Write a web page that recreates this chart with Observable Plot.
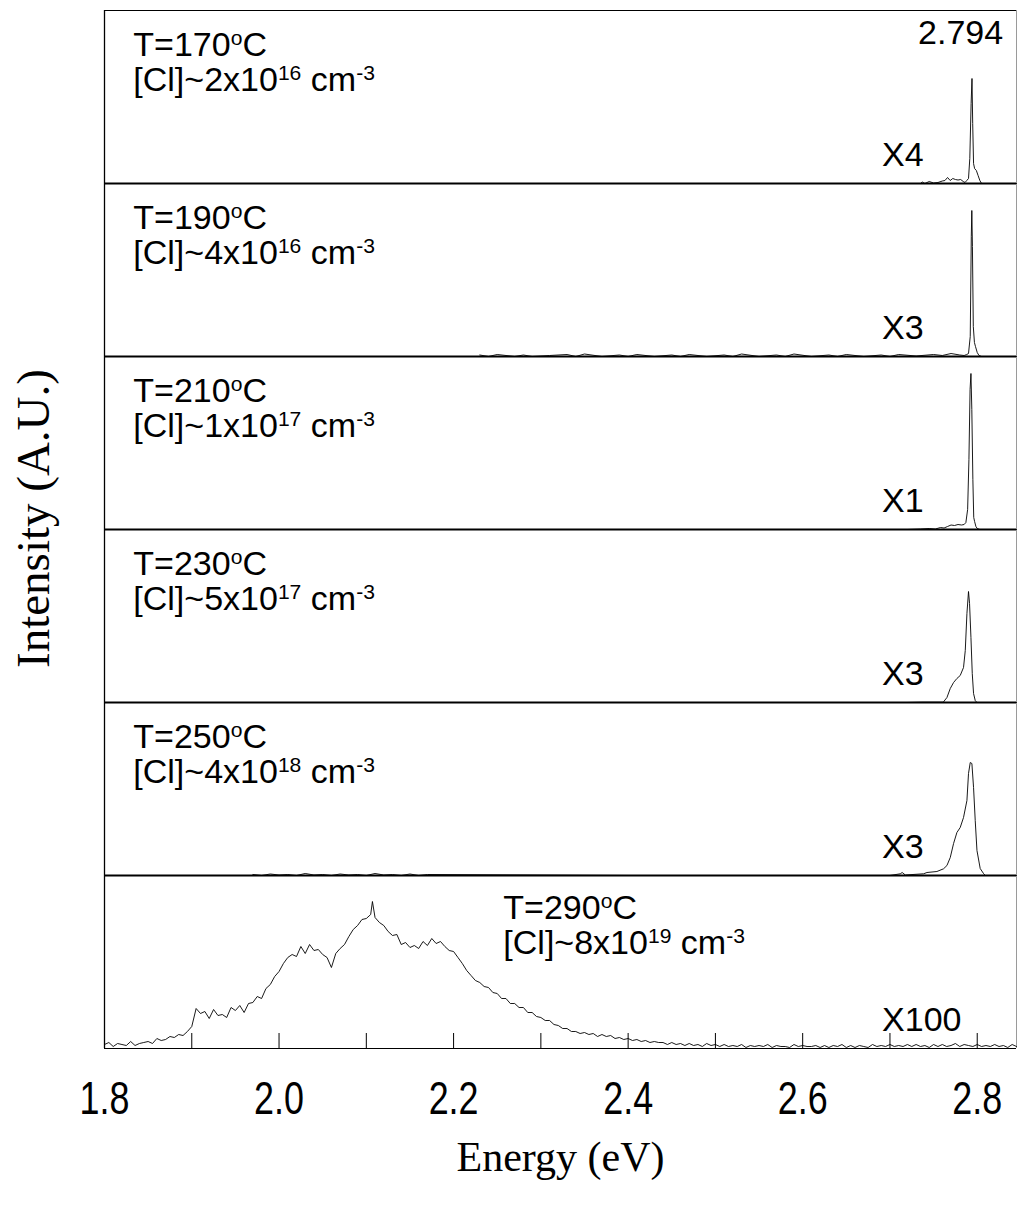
<!DOCTYPE html>
<html>
<head>
<meta charset="utf-8">
<script src="https://cdn.jsdelivr.net/npm/d3@7"></script>
<script src="https://cdn.jsdelivr.net/npm/@observablehq/plot@0.6"></script>
<style>
  body { margin: 0; background: #fff; }
  #chart svg { display: block; }
</style>
</head>
<body>
<div id="chart"></div>
<script>
// ---------------- data ----------------
const panels = ["170", "190", "210", "230", "250", "290"];
const tempLabels = ["T=170°C", "T=190°C", "T=210°C", "T=230°C", "T=250°C", "T=290°C"];
const clLabels = ["[Cl]~2x10¹⁶ cm⁻³", "[Cl]~4x10¹⁶ cm⁻³", "[Cl]~1x10¹⁷ cm⁻³",
                  "[Cl]~5x10¹⁷ cm⁻³", "[Cl]~4x10¹⁸ cm⁻³", "[Cl]~8x10¹⁹ cm⁻³"];
const factorLabels = ["X4", "X3", "X1", "X3", "X3", "X100"];
const peakLabel = "2.794";
const xTickValues = [1.8, 2.0, 2.2, 2.4, 2.6, 2.8];
const minorTickValues = [1.9, 2.0, 2.1, 2.2, 2.3, 2.4, 2.5, 2.6, 2.7, 2.8];

// T=170 °C (x4)
const e170 = [2.574, 2.62, 2.68, 2.72, 2.735, 2.737, 2.740, 2.745, 2.750, 2.755, 2.760, 2.763, 2.766, 2.769, 2.772, 2.775, 2.778, 2.781, 2.784, 2.786, 2.788, 2.790, 2.7915, 2.793, 2.794, 2.7948, 2.7958, 2.797, 2.799, 2.801, 2.803, 2.805, 2.845];
const i170 = [0, 0, 0, 0, 0, 1.5, 0, 2, 0.5, 1, 2.5, 3, 6, 3, 5, 4, 3.5, 4, 2, 1, 3, 5, 25, 80, 105, 60, 20, 15, 13, 8, 3, 0, 0];
// T=190 °C (x3)
const e190 = [2.23, 2.24, 2.25, 2.27, 2.28, 2.29, 2.31, 2.33, 2.34, 2.35, 2.37, 2.39, 2.40, 2.41, 2.43, 2.45, 2.46, 2.47, 2.49, 2.51, 2.52, 2.53, 2.55, 2.57, 2.58, 2.59, 2.61, 2.63, 2.64, 2.65, 2.67, 2.69, 2.70, 2.71, 2.73, 2.75, 2.76, 2.77, 2.78, 2.785, 2.788, 2.790, 2.792, 2.7932, 2.7938, 2.7945, 2.7955, 2.7968, 2.798, 2.800, 2.802, 2.805, 2.845];
const i190 = [1.5, 0, 2, 0, 1.5, 0, 1, 2, 0, 2.5, 0, 1.5, 0, 2, 0, 1.5, 0, 2, 0, 1.5, 0, 2.5, 0, 1.5, 0, 2.5, 0, 1.5, 0, 2, 0, 1.5, 0, 2, 0.5, 2, 1, 3, 1.5, 1, 2, 3, 20, 120, 146, 110, 30, 14, 10, 4, 1, 0, 0];
// T=210 °C (x1)
const e210 = [2.70, 2.72, 2.735, 2.745, 2.752, 2.758, 2.762, 2.766, 2.770, 2.774, 2.778, 2.782, 2.785, 2.787, 2.789, 2.7905, 2.7918, 2.7928, 2.7938, 2.795, 2.796, 2.797, 2.7985, 2.800, 2.803, 2.845];
const i210 = [0, 0, 0.5, 1, 0.5, 2, 1.5, 3, 4.5, 4, 5, 4.5, 5, 7, 20, 70, 140, 156, 120, 50, 12, 8, 3, 1, 0, 0];
// T=230 °C (x3)
const e230 = [2.72, 2.7366, 2.7611, 2.7653, 2.7691, 2.7729, 2.7767, 2.7805, 2.7843, 2.7863, 2.7882, 2.7900, 2.7912, 2.7928, 2.7943, 2.7958, 2.7977, 2.7997, 2.845];
const i230 = [0, 0.3, 0.3, 5, 14, 20, 24, 27, 35, 52, 89, 111, 99, 65, 29, 9, 2, 0, 0];
// T=250 °C (x3)
const e250 = [1.97, 1.98, 1.99, 2.00, 2.01, 2.02, 2.03, 2.04, 2.05, 2.06, 2.07, 2.08, 2.09, 2.10, 2.11, 2.12, 2.13, 2.14, 2.15, 2.16, 2.17, 2.40, 2.70, 2.7118, 2.714, 2.7176, 2.7385, 2.7424, 2.7538, 2.7614, 2.7653, 2.7691, 2.7729, 2.7767, 2.7805, 2.7843, 2.7882, 2.7900, 2.7920, 2.7939, 2.7958, 2.7977, 2.7997, 2.8034, 2.8072, 2.8092, 2.845];
const i250 = [1, 0, 1.5, 0.5, 1, 0, 2, 0.5, 1, 0, 1.5, 0.5, 1, 0, 2, 0.5, 1, 0, 1.5, 0, 1, 0, 0, 1.7, 3, 0.5, 1.7, 3, 4, 6.7, 10, 18, 32, 43, 48, 58, 75, 102, 113, 112, 88, 55, 25, 7, 2, 0, 0];
// T=290 °C (x100)
const e290 = [1.800, 1.805, 1.810, 1.815, 1.820, 1.825, 1.830, 1.835, 1.840, 1.845, 1.850, 1.855, 1.860, 1.865, 1.870, 1.875, 1.880, 1.885, 1.890, 1.895,
  1.900, 1.905, 1.910, 1.915, 1.920, 1.925, 1.930, 1.935, 1.940, 1.945, 1.950, 1.955, 1.960, 1.965, 1.970, 1.975, 1.980, 1.985, 1.990, 1.995,
  2.000, 2.005, 2.010, 2.015, 2.020, 2.025, 2.030, 2.035, 2.040, 2.045, 2.050, 2.055, 2.060, 2.065, 2.070, 2.075, 2.080, 2.085, 2.090, 2.095,
  2.100, 2.105, 2.107, 2.110, 2.115, 2.120, 2.125, 2.130, 2.135, 2.140, 2.145, 2.150, 2.155, 2.160, 2.165, 2.170, 2.175, 2.180, 2.185, 2.190, 2.195,
  2.200, 2.205, 2.210, 2.215, 2.220, 2.225, 2.230, 2.235, 2.240, 2.245, 2.250, 2.255, 2.260, 2.265, 2.270, 2.275, 2.280, 2.285, 2.290, 2.295,
  2.300, 2.305, 2.310, 2.315, 2.320, 2.325, 2.330, 2.335, 2.340, 2.345, 2.350, 2.355, 2.360, 2.365, 2.370, 2.375, 2.380, 2.385, 2.390, 2.395,
  2.400, 2.405, 2.410, 2.415, 2.420, 2.425, 2.430, 2.435, 2.440, 2.445, 2.450, 2.455, 2.460, 2.465, 2.470, 2.475, 2.480, 2.485, 2.490, 2.495,
  2.500, 2.505, 2.510, 2.515, 2.520, 2.525, 2.530, 2.535, 2.540, 2.545, 2.550, 2.555, 2.560, 2.565, 2.570, 2.575, 2.580, 2.585, 2.590, 2.595,
  2.600, 2.605, 2.610, 2.615, 2.620, 2.625, 2.630, 2.635, 2.640, 2.645, 2.650, 2.655, 2.660, 2.665, 2.670, 2.675, 2.680, 2.685, 2.690, 2.695,
  2.700, 2.705, 2.710, 2.715, 2.720, 2.725, 2.730, 2.735, 2.740, 2.745, 2.750, 2.755, 2.760, 2.765, 2.770, 2.775, 2.780, 2.785, 2.790, 2.795,
  2.800, 2.805, 2.810, 2.815, 2.820, 2.825, 2.830, 2.835, 2.840, 2.845];
const i290 = [4, 6, 2, 5, 4, 3, 7, 3, 5, 6, 7, 5, 10, 8, 9, 12, 11, 14, 13, 17,
  22, 40, 35, 37, 30, 39, 33, 34, 31, 41, 38, 43, 36, 45, 46, 52, 50, 60, 64, 72,
  77, 85, 91, 94, 92, 102, 95, 104, 98, 99, 94, 91, 81, 95, 100, 104, 112, 119, 123, 129,
  130, 134, 147, 131, 126, 123, 117, 113, 114, 104, 106, 101, 103, 100, 107, 103, 110, 105, 107, 102, 98,
  97, 91, 85, 78, 73, 68, 66, 62, 61, 56, 55, 50, 50, 45, 45, 41, 41, 36, 36, 32,
  31, 28, 28, 24, 23, 20, 20, 17, 17, 15, 16, 14, 15, 12, 14, 12, 13, 10, 11, 9,
  10, 8, 9, 7, 8, 6, 7, 6, 6, 4, 6, 4, 5, 3, 5, 3, 4, 2, 5, 3,
  4, 2, 4, 2, 3, 2, 4, 1, 3, 2, 3, 2, 4, 1, 3, 2, 2, 1, 4, 2,
  3, 2, 2, 3, 1, 3, 1, 3, 2, 4, 1, 3, 1, 3, 2, 1, 4, 2, 3, 2,
  4, 2, 3, 2, 4, 2, 4, 2, 3, 1, 4, 2, 4, 2, 3, 5, 2, 4, 3, 2,
  4, 2, 3, 2, 4, 2, 3, 1, 4, 2];

const energies = [e170, e190, e210, e230, e250, e290];
const intensities = [i170, i190, i210, i230, i250, i290];

// ---------------- tables built from the arrays ----------------
const spectra = panels.flatMap((p, k) => energies[k].map((E, i) => ({panel: p, E, I: intensities[k][i]})));
const labels = panels.map((p, k) => ({panel: p, temp: tempLabels[k], cl: clLabels[k], factor: factorLabels[k]}));
const lastPanel = panels[panels.length - 1];
const isLast = d => d.panel === lastPanel;

const XMIN = 1.8, XMAX = 2.845, YMAX = 173;
const sans = "'Liberation Sans', Arial, Helvetica, sans-serif";
const serif = "'Liberation Serif', 'Times New Roman', serif";

const chart = Plot.plot({
  width: 1017,
  height: 1205,
  marginTop: 9,
  marginLeft: 104,
  marginRight: 1,
  marginBottom: 157,
  style: {fontFamily: sans, fontSize: "34px", background: "white", color: "black", overflow: "visible"},
  x: {domain: [XMIN, XMAX], ticks: xTickValues, tickSize: 0, tickPadding: 33,
      tickFormat: d3.format(".1f"), label: "Energy (eV)", labelAnchor: "center", labelOffset: 122, labelArrow: "none"},
  y: {domain: [0, YMAX], axis: null},
  fy: {domain: panels, padding: 0, axis: "left", tickSize: 0, tickFormat: () => "",
       label: "Intensity (A.U.)", labelAnchor: "center", labelOffset: 89, labelArrow: "none"},
  marks: [
    // panel separators / frame
    Plot.ruleY(labels.filter(d => !isLast(d)), {y: () => 0, fy: "panel", stroke: "black", strokeWidth: 2}),
    Plot.ruleY(labels.filter(isLast), {y: () => 0, fy: "panel", stroke: "black", strokeWidth: 1.2}),
    Plot.ruleY(labels.slice(0, 1), {y: () => YMAX, fy: "panel", stroke: "black", strokeWidth: 1.2}),
    Plot.ruleX(labels, {x: () => XMIN, fy: "panel", stroke: "black", strokeWidth: 1.3}),
    Plot.ruleX(labels, {x: () => XMAX, fy: "panel", stroke: "#9a9a9a", strokeWidth: 1}),
    // inward ticks on the bottom panel
    Plot.tickX(minorTickValues.map(x => ({panel: lastPanel, x})), {x: "x", fy: "panel", insetTop: YMAX - 15, stroke: "black", strokeWidth: 1}),
    // spectra
    Plot.line(spectra, {x: "E", y: "I", z: "panel", fy: "panel", stroke: "black", strokeWidth: 0.9}),
    // annotations
    Plot.text(labels, {x: d => isLast(d) ? 2.257 : 1.833, y: d => isLast(d) ? 140 : 138, text: "temp", fy: "panel",
      textAnchor: "start", lineAnchor: "middle", fontSize: 34, fill: "black"}),
    Plot.text(labels, {x: d => isLast(d) ? 2.257 : 1.833, y: d => isLast(d) ? 105 : 103, text: "cl", fy: "panel",
      textAnchor: "start", lineAnchor: "middle", fontSize: 34, fill: "black"}),
    Plot.text(labels, {x: () => 2.691, y: () => 28, text: "factor", fy: "panel",
      textAnchor: "start", lineAnchor: "middle", fontSize: 34, fill: "black"}),
    Plot.text(labels.slice(0, 1), {x: () => 2.781, y: () => 150, text: () => peakLabel, fy: "panel",
      textAnchor: "middle", lineAnchor: "middle", fontSize: 34, fill: "black"})
  ]
});

document.getElementById("chart").appendChild(chart);

// ---------------- typographic touches ----------------
const root = d3.select(chart);
// tick labels: tall, condensed digits
root.selectAll('[aria-label="x-axis tick label"]').style("font-size", "46px");
root.selectAll('[aria-label="x-axis tick label"] text')
  .style("font-family", sans).style("font-size", "46px")
  .each(function () {
    const len = this.getComputedTextLength();
    if (len > 0) {
      this.setAttribute("textLength", (len * 0.78).toFixed(1));
      this.setAttribute("lengthAdjust", "spacingAndGlyphs");
    }
  });
root.selectAll('[aria-label="x-axis label"] text')
  .style("font-family", serif).style("font-size", "42px")
  .each(function () { this.textContent = this.textContent.replace(/[→↑←↓]/g, "").trim(); });
root.selectAll('[aria-label="fy-axis label"]').attr("transform", function () {
  const t = this.getAttribute("transform") || "";
  return t + " translate(0,-11)";
});
root.selectAll('[aria-label="fy-axis label"] text')
  .style("font-family", serif).style("font-size", "47px")
  .each(function () { this.textContent = this.textContent.replace(/[→↑←↓]/g, "").trim(); });

// superscripts: ° and ¹²³⁴… become raised small characters
const SUP = {"°": "o", "⁰": "0", "¹": "1", "²": "2", "³": "3", "⁴": "4", "⁵": "5", "⁶": "6", "⁷": "7", "⁸": "8", "⁹": "9", "⁻": "-"};
root.selectAll("text").each(function () {
  if (this.querySelector("tspan")) return;
  const s = this.textContent;
  if (![...s].some(c => c in SUP)) return;
  const runs = [];
  for (const c of s) {
    const sup = c in SUP;
    const ch = sup ? SUP[c] : c;
    if (runs.length && runs[runs.length - 1].sup === sup) runs[runs.length - 1].text += ch;
    else runs.push({sup, text: ch});
  }
  this.textContent = "";
  let raised = false;
  for (const r of runs) {
    const ts = d3.select(this).append("tspan").text(r.text);
    if (r.sup) { ts.attr("font-size", "62%").attr("dy", "-0.55em"); raised = true; }
    else if (raised) { ts.attr("dy", "0.341em"); raised = false; }
  }
});
</script>
</body>
</html>
